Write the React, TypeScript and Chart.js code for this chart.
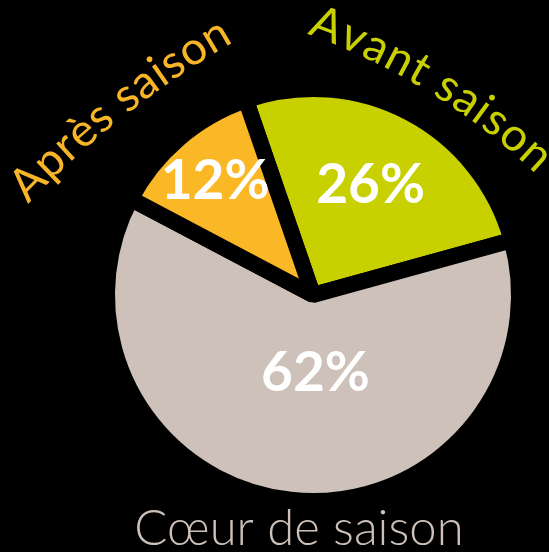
import React, { useEffect, useRef } from "react";
import Chart from "chart.js/auto";

// ---- data ----
const categories = ["Avant saison", "Cœur de saison", "Après saison"];
const shares = [26, 62, 12];
const percentLabels = ["26%", "62%", "12%"];

// ---- styles ----
const SLICE_COLORS = ["#c9d000", "#cdc1b9", "#fbb826"];
const TEXT_COLORS = ["#c9d000", "#cdc1b9", "#f7b527"];
const LABEL_RADIUS_FRACTION = [0.6, 0.38, 0.73];
const LABEL_ANGLE_SHIFT = [0, -0.14, 0];

function drawArcText(
  ctx: CanvasRenderingContext2D,
  text: string,
  x1: number, y1: number, x2: number, y2: number,
  R: number, font: string, color: string
) {
  ctx.save();
  ctx.font = font;
  ctx.fillStyle = color;
  const dx = x2 - x1, dy = y2 - y1;
  const L = Math.hypot(dx, dy);
  const mx = (x1 + x2) / 2, my = (y1 + y2) / 2;
  const d = Math.sqrt(Math.max(R * R - (L * L) / 4, 0));
  const cx = mx + (-dy / L) * d, cy = my + (dx / L) * d;
  const a1 = Math.atan2(y1 - cy, x1 - cx);
  let a2 = Math.atan2(y2 - cy, x2 - cx);
  while (a2 < a1) a2 += 2 * Math.PI;
  const arcLen = R * (a2 - a1);
  const chars = Array.from(text);
  const widths = chars.map((c) => ctx.measureText(c).width);
  const total = widths.reduce((a, b) => a + b, 0);
  const gap = (arcLen - total) / (chars.length - 1);
  let s = 0;
  ctx.textAlign = "center";
  ctx.textBaseline = "alphabetic";
  chars.forEach((c, i) => {
    const mid = a1 + (s + widths[i] / 2) / R;
    const px = cx + R * Math.cos(mid), py = cy + R * Math.sin(mid);
    ctx.save();
    ctx.translate(px, py);
    ctx.rotate(mid + Math.PI / 2);
    ctx.fillText(c, 0, 0);
    ctx.restore();
    s += widths[i] + gap;
  });
  ctx.restore();
}

const labelPlugin = {
  id: "pieLabels",
  afterDatasetsDraw(chart: any) {
    const ctx: CanvasRenderingContext2D = chart.ctx;
    const meta = chart.getDatasetMeta(0);
    ctx.save();
    ctx.fillStyle = "#ffffff";
    ctx.font = "bold 55px Lato, 'Open Sans', sans-serif";
    ctx.textAlign = "center";
    ctx.textBaseline = "middle";
    meta.data.forEach((arc: any, i: number) => {
      const p = arc.getProps(["x", "y", "startAngle", "endAngle", "outerRadius"], true);
      const mid = (p.startAngle + p.endAngle) / 2 + LABEL_ANGLE_SHIFT[i];
      const r = p.outerRadius * LABEL_RADIUS_FRACTION[i];
      ctx.fillText(percentLabels[i], p.x + r * Math.cos(mid), p.y + r * Math.sin(mid));
    });
    ctx.restore();

    const font = "46px Lato, 'Open Sans', sans-serif";
    drawArcText(ctx, categories[0], 307, 34, 536, 174, 650, font, TEXT_COLORS[0]);
    drawArcText(ctx, categories[2], 28, 204, 234, 42, 900, font, TEXT_COLORS[2]);

    ctx.save();
    ctx.font = "300 49px Lato, 'Open Sans', sans-serif";
    ctx.fillStyle = TEXT_COLORS[1];
    ctx.textAlign = "center";
    ctx.textBaseline = "alphabetic";
    ctx.fillText(categories[1], 299, 545);
    ctx.restore();
  },
};

export default function App() {
  const ref = useRef<HTMLCanvasElement>(null);
  useEffect(() => {
    document.body.style.background = "#000";
    const chart = new Chart(ref.current!, {
      type: "pie",
      data: {
        labels: categories,
        datasets: [
          {
            data: shares,
            backgroundColor: SLICE_COLORS,
            borderColor: "#000000",
            borderWidth: 16,
          },
        ],
      },
      options: {
        responsive: false,
        animation: false,
        rotation: -19,
        radius: 206,
        layout: { padding: { left: 100, right: 23, top: 60, bottom: 22 } },
        plugins: { legend: { display: false }, tooltip: { enabled: false } },
      },
      plugins: [labelPlugin],
    });
    return () => chart.destroy();
  }, []);
  return (
    <div style={{ position: "absolute", left: 0, top: 0, width: 549, height: 552, background: "#000" }}>
      <canvas ref={ref} width={549} height={552} style={{ display: "block" }} />
    </div>
  );
}
